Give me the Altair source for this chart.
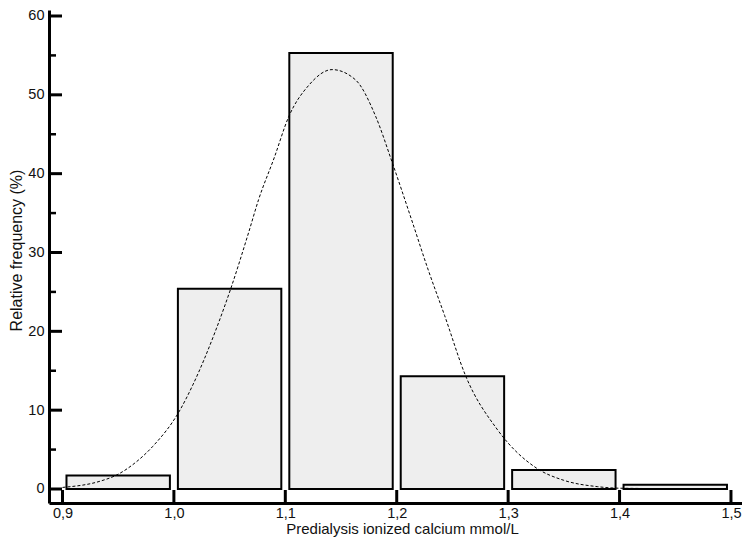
import altair as alt
import pandas as pd

# Histogram bins (mmol/L) and relative frequency (%)
bin_start = [0.9, 1.0, 1.1, 1.2, 1.3, 1.4]
bin_end = [1.0, 1.1, 1.2, 1.3, 1.4, 1.5]
rel_freq = [1.7, 25.4, 55.3, 14.3, 2.4, 0.55]

# Fitted curve
curve_x = [0.900, 0.934, 0.949, 0.965, 0.981, 1.005, 1.017, 1.038, 1.051, 1.067,
           1.076, 1.090, 1.103, 1.121, 1.142, 1.163, 1.181, 1.196, 1.213, 1.228,
           1.243, 1.262, 1.290, 1.326, 1.350, 1.380, 1.400, 1.497]
curve_y = [0.2, 1.0, 1.8, 3.3, 5.4, 9.9, 13.2, 20.3, 25.4, 32.5,
           36.7, 42.0, 47.2, 51.2, 53.2, 51.9, 47.3, 41.4, 34.3, 27.9,
           22.0, 14.3, 7.6, 2.6, 1.1, 0.3, 0.1, 0.0]

# Axis ticks
x_ticks = [0.9, 1.0, 1.1, 1.2, 1.3, 1.4, 1.5]
y_major = [0, 10, 20, 30, 40, 50, 60]
y_minor = [5, 15, 25, 35, 45, 55]

FONT = "Liberation Sans"
W, H = 693, 493

bars_df = pd.DataFrame({"x0": bin_start, "x1": bin_end, "y": rel_freq})
curve_df = pd.DataFrame({"x": curve_x, "y": curve_y})
xt_df = pd.DataFrame({"v": x_ticks})
ymaj_df = pd.DataFrame({"v": y_major})
ymin_df = pd.DataFrame({"v": y_minor})

xscale = alt.Scale(domain=[0.8879, 1.5099], nice=False, zero=False)
yscale = alt.Scale(domain=[-1.776, 60.76], nice=False, zero=False)

label_expr = "replace(format(datum.value, '.1f'), '.', ',')"

bars = alt.Chart(bars_df).mark_rect(
    fill="#eeeeee", stroke="black", strokeWidth=2, xOffset=4, x2Offset=-4
).encode(
    x=alt.X("x0:Q", scale=xscale,
            axis=alt.Axis(values=x_ticks, labelExpr=label_expr, ticks=False,
                          grid=False, domainWidth=3, domainColor="black",
                          labelPadding=3, labelFontSize=14.5, labelFont=FONT,
                          labelColor="#111", title="Predialysis ionized calcium mmol/L",
                          titleFont=FONT, titleFontSize=15, titleFontWeight="normal",
                          titleColor="#111", titlePadding=2, titleX=353)),
    x2="x1:Q",
    y=alt.Y("y:Q", scale=yscale,
            axis=alt.Axis(values=y_major, ticks=False, grid=False, domainWidth=3,
                          domainColor="black", labelPadding=5, labelFontSize=14.5,
                          labelFont=FONT, labelColor="#111",
                          title="Relative frequency (%)", titleFont=FONT,
                          titleFontSize=16, titleFontWeight="normal",
                          titleColor="#111", titlePadding=3, titleY=240)),
    y2=alt.Y2(datum=0),
)

curve = alt.Chart(curve_df).mark_line(
    color="black", strokeWidth=1, strokeDash=[3, 2], interpolate="monotone"
).encode(x=alt.X("x:Q", scale=xscale), y=alt.Y("y:Q", scale=yscale))

ymaj = alt.Chart(ymaj_df).mark_rule(color="black", strokeWidth=3).encode(
    y=alt.Y("v:Q", scale=yscale), x=alt.value(0), x2=alt.value(13)
)
ymin = alt.Chart(ymin_df).mark_rule(color="black", strokeWidth=2.5).encode(
    y=alt.Y("v:Q", scale=yscale), x=alt.value(0), x2=alt.value(7)
)
xt = alt.Chart(xt_df).mark_rule(color="black", strokeWidth=3).encode(
    x=alt.X("v:Q", scale=xscale), y=alt.value(H), y2=alt.value(H - 13)
)

chart = alt.layer(bars, curve, ymaj, ymin, xt).properties(
    width=W, height=H,
    autosize=alt.AutoSizeParams(type="none"),
    padding={"left": 41, "top": 2, "right": 0, "bottom": 35},
).configure(
    background="white", view=alt.ViewConfig(stroke=None)
)

chart.save("out.html", embed_options={"renderer": "svg", "actions": False})
